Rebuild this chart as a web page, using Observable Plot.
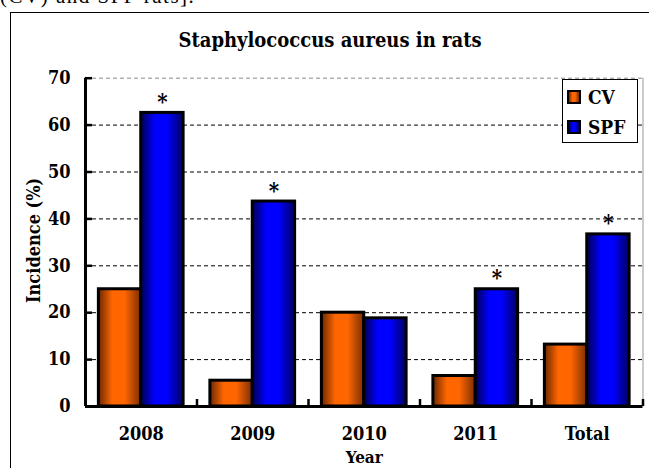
<!DOCTYPE html>
<html>
<head>
<meta charset="utf-8">
<script src="https://cdn.jsdelivr.net/npm/d3@7"></script>
<script src="https://cdn.jsdelivr.net/npm/@observablehq/plot@0.6"></script>
<style>
  html, body { margin: 0; padding: 0; background: #fff; }
  #page { position: relative; width: 649px; height: 468px; overflow: hidden; background: #fff; }
  .serif { font-family: "DejaVu Serif Condensed", "DejaVu Serif", serif; font-stretch: condensed; font-weight: bold; color: #000; }
  #frame { position: absolute; left: 10px; top: 12px; width: 660px; height: 500px; border: 1.2px solid #000; box-sizing: border-box; }
  #above { position: absolute; left: 0; top: -14px; font-family: "Liberation Serif", serif; font-size: 21px; line-height: 20px; letter-spacing: 1.5px; white-space: nowrap; }
  #title { position: absolute; left: 10px; width: 640px; top: 28px; text-align: center; font-size: 20px; line-height: 24px; }
  #chart { position: absolute; left: 0; top: 0; }
  #legend { position: absolute; left: 562px; top: 79px; width: 76px; height: 64px; border: 1px solid #000; background: #fff; box-sizing: border-box; }
  .item { position: absolute; left: 4px; height: 20px; display: flex; align-items: center; font-size: 19px; }
  .sw { width: 10px; height: 10px; border: 2px solid #000; margin-right: 7px; }
  .sw.cv { background: linear-gradient(to right, #6b2800 0%, #ff6600 35%, #ff6600 60%, #7a2e00 100%); }
  .sw.spf { background: linear-gradient(to right, #000050 0%, #0000ff 35%, #0000ff 60%, #000060 100%); }
</style>
</head>
<body>
<div id="page">
  <div id="above">(CV) and SPF rats].</div>
  <div id="frame"></div>
  <div id="chart"></div>
  <div id="title" class="serif">Staphylococcus aureus in rats</div>
  <div id="legend" class="serif"></div>
</div>
<script>
// ---- data ----
const categories = ["2008", "2009", "2010", "2011", "Total"];
const cvValues = [25, 5.5, 20, 6.5, 13.2];
const spfValues = [62.6, 43.7, 18.8, 25, 36.7];
const significant = [true, true, false, true, true];
const seriesNames = ["CV", "SPF"];
const yTicks = [0, 10, 20, 30, 40, 50, 60, 70];
const gridValues = [10, 20, 30, 40, 50, 60];

const rows = categories.flatMap((c, i) => [
  {cat: c, i, series: "CV", value: cvValues[i], sig: false},
  {cat: c, i, series: "SPF", value: spfValues[i], sig: significant[i]}
]);

const font = '"DejaVu Serif Condensed", "DejaVu Serif", serif';
const svgNS = "http://www.w3.org/2000/svg";

function gradientDefs() {
  const defs = document.createElementNS(svgNS, "defs");
  const make = (id, stops) => {
    const g = document.createElementNS(svgNS, "linearGradient");
    g.setAttribute("id", id);
    g.setAttribute("x1", "0"); g.setAttribute("x2", "1");
    g.setAttribute("y1", "0"); g.setAttribute("y2", "0");
    for (const [o, c] of stops) {
      const s = document.createElementNS(svgNS, "stop");
      s.setAttribute("offset", o);
      s.setAttribute("stop-color", c);
      g.appendChild(s);
    }
    defs.appendChild(g);
  };
  make("gCV", [[0, "#6b2800"], [0.33, "#ff6600"], [0.62, "#ff6600"], [1, "#7a2e00"]]);
  make("gSPF", [[0, "#000050"], [0.33, "#0000ff"], [0.62, "#0000ff"], [1, "#000060"]]);
  return defs;
}

// group layout within each category slot
const barStart = {CV: 0.12, SPF: 0.5};
const barEnd = {CV: 0.5, SPF: 0.88};

const chart = Plot.plot({
  width: 649,
  height: 468,
  marginLeft: 85,
  marginRight: 6.5,
  marginTop: 77.7,
  marginBottom: 62,
  x: {domain: [0, categories.length], axis: null},
  y: {domain: [0, 70], axis: null},
  style: {fontFamily: font, fontWeight: "bold", fontSize: "18px", background: "transparent", overflow: "visible"},
  marks: [
    gradientDefs,
    Plot.ruleY(gridValues, {stroke: "#000", strokeWidth: 1, strokeDasharray: "4,3"}),
    Plot.ruleY([70], {stroke: "#888", strokeWidth: 1, strokeDasharray: "4,3"}),
    Plot.ruleX([categories.length], {stroke: "#999", strokeWidth: 1}),
    Plot.rectY(rows.filter(d => d.series === "CV"), {
      x1: d => d.i + barStart.CV, x2: d => d.i + barEnd.CV, y1: 0, y2: "value",
      fill: "url(#gCV)", stroke: "#000", strokeWidth: 3
    }),
    Plot.rectY(rows.filter(d => d.series === "SPF"), {
      x1: d => d.i + barStart.SPF, x2: d => d.i + barEnd.SPF, y1: 0, y2: "value",
      fill: "url(#gSPF)", stroke: "#000", strokeWidth: 3
    }),
    Plot.text(rows.filter(d => d.sig), {
      x: d => d.i + (barStart.SPF + barEnd.SPF) / 2, y: "value", text: () => "*",
      dy: -11, fontSize: 22, fontWeight: "bold"
    }),
    Plot.ruleX([0], {stroke: "#000", strokeWidth: 3}),
    Plot.ruleY([0], {stroke: "#000", strokeWidth: 3}),
    Plot.axisY(yTicks, {tickSize: -7, tickPadding: 22, strokeWidth: 2.5, fontSize: 18, fontWeight: "bold", label: null}),
    Plot.axisX(d3.range(categories.length + 1), {tickSize: -7, tickFormat: () => "", strokeWidth: 2.5, label: null}),
    Plot.axisX(categories.map((c, i) => i + 0.5), {
      tickSize: 0, tickPadding: 21, fontSize: 18, fontWeight: "bold", label: null,
      tickFormat: v => categories[Math.round(v - 0.5)]
    }),
    Plot.text(["Incidence (%)"], {frameAnchor: "left", dx: -51, dy: -2, rotate: -90, textAnchor: "middle", lineAnchor: "middle", fontSize: 18, fontWeight: "bold"}),
    Plot.text(["Year"], {frameAnchor: "bottom", dy: 51, lineAnchor: "middle", textAnchor: "middle", fontSize: 17, fontWeight: "bold"})
  ]
});
document.getElementById("chart").appendChild(chart);

// legend
const legend = document.getElementById("legend");
seriesNames.forEach((name, k) => {
  const item = document.createElement("div");
  item.className = "item";
  item.style.top = (7 + k * 30) + "px";
  const sw = document.createElement("span");
  sw.className = "sw " + name.toLowerCase();
  item.appendChild(sw);
  item.appendChild(document.createTextNode(name));
  legend.appendChild(item);
});
</script>
</body>
</html>
